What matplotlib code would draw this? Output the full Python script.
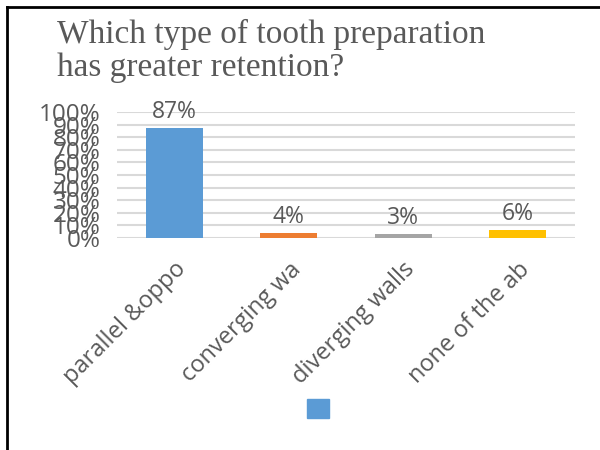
import numpy as np
import matplotlib.pyplot as plt
from matplotlib.patches import Patch
from matplotlib.lines import Line2D

categories = ["parallel &oppo", "converging wa", "diverging walls", "none of the ab"]
values = [87, 4, 3, 6]
colors = ["#5B9BD5", "#ED7D31", "#A5A5A5", "#FFC000"]
yticks = list(range(0, 101, 10))
ytick_labels = [str(t) + "%" for t in yticks]
title = "Which type of tooth preparation\nhas greater retention?"

grey = "#595959"
plt.rcParams["font.family"] = ["Open Sans", "DejaVu Sans"]

fig = plt.figure(figsize=(6, 4.5), dpi=100)
ax = fig.add_axes([0.195, 0.471, 0.763, 0.28])

x = np.arange(len(categories))
bars = ax.bar(x, values, width=0.5, color=colors, zorder=3)
for b, v in zip(bars, values):
    ax.annotate(str(v) + "%", (b.get_x() + b.get_width() / 2, v),
                xytext=(0, 3), textcoords="offset points",
                ha="center", va="bottom", fontsize=16.5, color=grey)

ax.set_xlim(-0.5, len(categories) - 0.5)
ax.set_ylim(0, 100)
ax.set_yticks(yticks)
ax.set_yticklabels(ytick_labels, fontsize=17.5, color=grey)
ax.set_xticks(x)
ax.set_xticklabels(categories, fontsize=17, color=grey, rotation=45,
                   ha="right", va="top", rotation_mode="anchor")
ax.tick_params(axis="both", length=0)
ax.tick_params(axis="y", pad=12)
ax.tick_params(axis="x", pad=14)
ax.grid(axis="y", color="#D9D9D9", linewidth=1.5, zorder=0)
for s in ax.spines.values():
    s.set_visible(False)

fig.text(57 / 600, 1 - 19 / 450, title, ha="left", va="top",
         family="Liberation Serif", fontsize=24, color=grey, linespacing=1.12)

fig.legend(handles=[Patch(color=colors[0])], labels=[""],
           loc="center", bbox_to_anchor=(318 / 600, 1 - 409 / 450),
           frameon=False, fontsize=14, handlelength=1.1, handleheight=1.1,
           handletextpad=0, borderpad=0)

# outer frame, only left and top edges visible
fig.add_artist(Line2D([7 / 600, 7 / 600], [0, 1 - 7 / 450], color="black",
                      linewidth=2, transform=fig.transFigure))
fig.add_artist(Line2D([7 / 600, 1], [1 - 7 / 450, 1 - 7 / 450], color="black",
                      linewidth=2, transform=fig.transFigure))

fig.savefig("out.png", dpi=100)
